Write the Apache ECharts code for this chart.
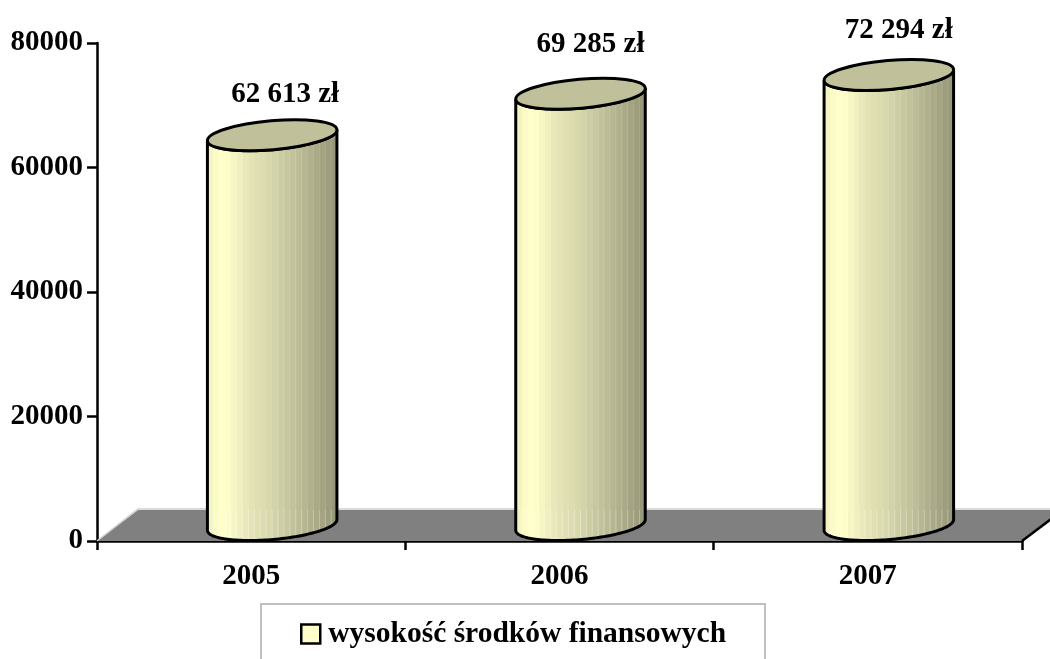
<!DOCTYPE html>
<html><head><meta charset="utf-8">
<style>html,body{margin:0;padding:0;background:#fff}#c{width:1050px;height:659px}</style>
<script src="https://cdn.jsdelivr.net/npm/echarts@6/dist/echarts.min.js"></script>
</head><body><div id="c"></div>
<script>
const categories = ['2005', '2006', '2007'];
const values = [62613, 69285, 72294];
const yTicks = [0, 20000, 40000, 60000, 80000];
const seriesName = 'wysokość środków finansowych';
const labelNudgeY = [1, -7, -2];
const labelNudgeX = [3, 0, 0];

const font = '"Liberation Serif","Times New Roman",serif';
const D = {dx: 41, dy: 31};
const RX = 65, RY = 14.5, TILT = -5 * Math.PI / 180;
const bandColors = ['#f4f4c3','#fbfbc8','#ffffcc','#fdfdca','#f6f6c5','#efefbf','#e8e8ba','#e3e3b6','#dfdfb2','#dcdcb0','#d8d8ad','#d3d3a9','#cdcda4','#c7c7a0','#c2c29b','#bcbc97','#b6b692','#b0b08d','#aaaa88','#a4a483','#9e9e7e','#98987a'];
function bandFill(){
  const stops=[]; const n=bandColors.length;
  bandColors.forEach((c,i)=>{stops.push({offset:i/n,color:c});stops.push({offset:(i+1)/n,color:c});});
  return {type:'linear',x:0,y:0,x2:1,y2:0,colorStops:stops};
}
const cosT = Math.cos(TILT), sinT = Math.sin(TILT);
function ellipsePoint(cx,cy,t){
  const ex=RX*Math.cos(t), ey=RY*Math.sin(t);
  return [cx+ex*cosT-ey*sinT, cy+ex*sinT+ey*cosT];
}
function bodyPoints(cx,topY,baseY){
  const pts=[]; const N=72;
  for(let k=0;k<=N;k++){ pts.push(ellipsePoint(cx,baseY,Math.PI-Math.PI*k/N)); }
  for(let k=0;k<=N;k++){ pts.push(ellipsePoint(cx,topY,Math.PI*k/N)); }
  return pts;
}

function renderFloor(params, api){
  const o = api.coord([0,0]);
  const cs = params.coordSys;
  const x0 = cs.x, x1 = cs.x + cs.width, y = o[1];
  return {type:'group', silent:true, children:[
    {type:'polygon', shape:{points:[[x0,y],[x0+D.dx,y-D.dy],[x1+D.dx,y-D.dy],[x1,y]]}, style:{fill:'#808080'}},
    {type:'polyline', shape:{points:[[x0,y],[x0+D.dx,y-D.dy-1],[x1+D.dx,y-D.dy-1]]}, style:{fill:'none',stroke:'#cfcfcf',lineWidth:1.5}},
    {type:'line', shape:{x1:x1,y1:y,x2:x1+D.dx,y2:y-D.dy}, style:{stroke:'#000',lineWidth:2.5}}
  ]};
}
function renderCylinder(params, api){
  const cat = api.value(0), v = api.value(1), i = params.dataIndex;
  const p = api.coord([cat, v]), b = api.coord([cat, 0]);
  const cx = p[0] + 21, topY = p[1] - 16, baseY = b[1] - 16;
  const pts = bodyPoints(cx, topY, baseY);
  const stripes = [];
  const n = bandColors.length;
  for (let k=1;k<n;k+=1){
    const x = cx-RX+2*RX*k/n;
    stripes.push({type:'line', shape:{x1:x,y1:b[1]-D.dy,x2:x,y2:b[1]}, style:{stroke:'rgba(255,255,255,0.32)',lineWidth:1}});
    if (k>n/2) stripes.push({type:'line', shape:{x1:x,y1:topY,x2:x,y2:b[1]-D.dy}, style:{stroke:'rgba(255,255,255,0.14)',lineWidth:1}});
  }
  return {type:'group', children:[
    {type:'polygon', shape:{points:pts}, style:{fill:bandFill()}},
    {type:'group', children:stripes, clipPath:{type:'polygon', shape:{points:pts}}},
    {type:'polygon', shape:{points:pts}, style:{fill:'none',stroke:'#000',lineWidth:3}},
    {type:'ellipse', x:cx, y:topY, rotation:-TILT, shape:{cx:0,cy:0,rx:RX,ry:RY}, style:{fill:'#c0c09a',stroke:'#000',lineWidth:3}},
    {type:'text', style:{text:String(v).replace(/\B(?=(\d{3})+$)/g,' ')+' zł', x:cx+10+labelNudgeX[i], y:p[1]-58+labelNudgeY[i], align:'center', verticalAlign:'middle', font:'bold 29px '+font, fill:'#000'}}
  ]};
}

const chart = echarts.init(document.getElementById('c'), null, {renderer:'canvas'});
chart.setOption({
  animation:false,
  backgroundColor:'#fff',
  grid:{left:97,right:28,top:43,bottom:118,containLabel:false},
  legend:{
    left:261, top:604, orient:'horizontal',
    padding:[15,39,40,39], borderColor:'#c0c0c0', borderWidth:2, backgroundColor:'#fff',
    itemWidth:19, itemHeight:19, itemGap:0,
    icon:'rect',
    selectedMode:false,
    data:[{name:seriesName, itemStyle:{color:'#ffffcc',borderColor:'#000',borderWidth:2.5}}],
    textStyle:{fontFamily:font,fontWeight:'bold',fontSize:29.5,color:'#000',padding:[8,0,0,3]}
  },
  xAxis:{type:'category',data:categories,boundaryGap:true,
    axisLine:{show:true,onZero:false,lineStyle:{color:'#000',width:2.5}},
    axisTick:{show:true,alignWithLabel:false,length:9,inside:false,lineStyle:{color:'#000',width:2.5}},
    axisLabel:{fontFamily:font,fontWeight:'bold',fontSize:29,color:'#000',margin:21},
    splitLine:{show:false}},
  yAxis:{type:'value',min:0,max:80000,interval:20000,
    axisLine:{show:true,lineStyle:{color:'#000',width:2.5}},
    axisTick:{show:true,length:10,lineStyle:{color:'#000',width:2.5}},
    axisLabel:{fontFamily:font,fontWeight:'bold',fontSize:29,color:'#000',margin:14,padding:[8,0,0,0],
      formatter:v=>yTicks.includes(v)?String(v):''},
    splitLine:{show:false}},
  series:[
    {type:'custom',name:'floor',silent:true,legendHoverLink:false,clip:false,z:1,renderItem:renderFloor,data:[[0,0]],encode:{x:0,y:1}},
    {type:'custom',name:seriesName,clip:false,z:3,renderItem:renderCylinder,
      data:values.map((v,i)=>[i,v]),encode:{x:0,y:1},itemStyle:{color:'#ffffcc'}}
  ]
});
</script></body></html>
